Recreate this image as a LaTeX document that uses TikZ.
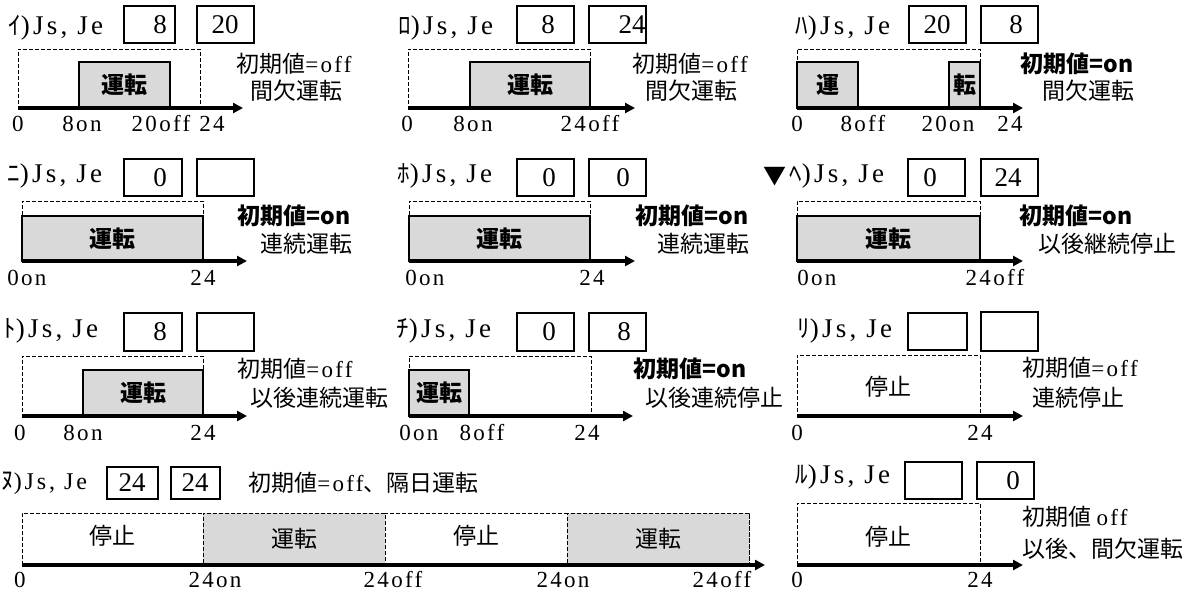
\documentclass[tikz,border=0pt]{standalone}
\usepackage{fontspec}
\usetikzlibrary{arrows.meta}
\newfontfamily\jpfam{Noto Sans CJK JP}
\newfontfamily\latfam[LetterSpace=10]{Liberation Serif}
\newfontfamily\lblfam[LetterSpace=12]{Liberation Serif}
\newfontfamily\numfam{Liberation Serif}
\newcommand\myjp{\jpfam\fontsize{11.5pt}{14pt}\selectfont}
\newcommand\myjpb{\jpfam\bfseries\fontsize{11.5pt}{14pt}\selectfont}
\newcommand\mylat{\latfam\fontsize{11.5pt}{14pt}\selectfont}
\newcommand\mylbl{\lblfam\fontsize{13.5pt}{16pt}\selectfont}
\newcommand\mylbls{\lblfam\fontsize{12pt}{15pt}\selectfont}
\newcommand\mykana{\jpfam\fontsize{12.5pt}{15pt}\selectfont}
\newcommand\mynum{\numfam\fontsize{13.5pt}{16pt}\selectfont}
\newcommand\mkbox[7]{\node[#2, minimum width={(#5-#3)*0.5pt}, minimum height={(#6-#4)*0.5pt}] (#1) at ({(#3+#5)/2},{(#4+#6)/2}) {#7};}
\tikzset{
 valbox/.style={draw, line width=1.1pt, inner sep=0},
 dashbox/.style={draw, line width=0.5pt, dash pattern=on 2pt off 1pt, inner sep=0, font=\myjp},
 runbox/.style={draw, fill=black!15, line width=1pt, inner sep=0, font=\myjpb},
 runday/.style={draw, fill=black!15, line width=0.5pt, dash pattern=on 2pt off 1pt, inner sep=0, font=\myjp},
 axis/.style={line width=1.6pt, -{Triangle[length=5pt,width=5pt]}},
 lab/.style={inner sep=0, anchor=west, font=\mylbl},
 jlab/.style={inner sep=0, anchor=west, font=\myjp},
 blab/.style={inner sep=0, anchor=west, font=\myjpb},
 tick/.style={inner sep=0, font=\mylat},
 num/.style={inner sep=0, font=\mynum},
}
\begin{document}
\begin{tikzpicture}[x=0.5pt,y=-0.5pt]
\useasboundingbox (0,0) rectangle (1200,591);
% ---------- Row 1 ----------
% i
\node[lab] (i-l) at (8,28) {{\mykana ｲ})Js, Je};
\mkbox{i-b1}{valbox}{124}{6}{175}{43}{}
\mkbox{i-b2}{valbox}{197}{6}{254}{43}{}
\node[num] (i-v1) at (160,25) {8};
\node[num] (i-v2) at (225,25) {20};
\mkbox{i-d}{dashbox}{18}{49}{200}{108}{}
\mkbox{i-r}{runbox}{79}{62}{170}{108}{運転}
\coordinate (i-o) at (18,108); \coordinate (i-e) at (243,108);
\draw[axis] (i-o) -- (i-e);
\node[tick] (i-t0) at (18,124) {0};
\node[tick] (i-t1) at (82,124) {8on};
\node[tick] (i-t2) at (161,124) {20off};
\node[tick] (i-t3) at (212,124) {24};
\node[jlab] (i-n1) at (236,64) {初期値{\mylat =off}};
\node[jlab] (i-n2) at (250,91) {間欠運転};
% ro
\node[lab] (ro-l) at (398,28) {{\mykana ﾛ})Js, Je};
\mkbox{ro-b1}{valbox}{517}{6}{574}{43}{}
\mkbox{ro-b2}{valbox}{589}{6}{646}{43}{}
\node[num] (ro-v1) at (548,25) {8};
\node[num] (ro-v2) at (632,25) {24};
\mkbox{ro-d}{dashbox}{408}{49}{590}{108}{}
\mkbox{ro-r}{runbox}{470}{62}{590}{108}{運転}
\coordinate (ro-o) at (408,108); \coordinate (ro-e) at (635,108);
\draw[axis] (ro-o) -- (ro-e);
\node[tick] (ro-t0) at (407,124) {0};
\node[tick] (ro-t1) at (473,124) {8on};
\node[tick] (ro-t2) at (590,124) {24off};
\node[jlab] (ro-n1) at (632,64) {初期値{\mylat =off}};
\node[jlab] (ro-n2) at (645,91) {間欠運転};
% ha
\node[lab] (ha-l) at (795,28) {{\mykana ﾊ})Js, Je};
\mkbox{ha-b1}{valbox}{909}{6}{966}{43}{}
\mkbox{ha-b2}{valbox}{981}{6}{1038}{43}{}
\node[num] (ha-v1) at (937,25) {20};
\node[num] (ha-v2) at (1016,25) {8};
\mkbox{ha-d}{dashbox}{797}{49}{980}{108}{}
\mkbox{ha-r1}{runbox}{797}{62}{858}{108}{運}
\mkbox{ha-r2}{runbox}{949}{62}{980}{108}{転}
\coordinate (ha-o) at (797,108); \coordinate (ha-e) at (1023,108);
\draw[axis] (ha-o) -- (ha-e);
\node[tick] (ha-t0) at (797,124) {0};
\node[tick] (ha-t1) at (863,124) {8off};
\node[tick] (ha-t2) at (948,124) {20on};
\node[tick] (ha-t3) at (1010,124) {24};
\node[blab] (ha-n1) at (1020,64) {初期値=on};
\node[jlab] (ha-n2) at (1042,91) {間欠運転};
% ---------- Row 2 ----------
% ni
\node[lab] (ni-l) at (7,176) {{\mykana ﾆ})Js, Je};
\mkbox{ni-b1}{valbox}{124}{159}{182}{196}{}
\mkbox{ni-b2}{valbox}{197}{159}{254}{196}{}
\node[num] (ni-v1) at (160,178) {0};
\mkbox{ni-d}{dashbox}{22}{201}{203}{261}{}
\mkbox{ni-r}{runbox}{22}{216}{203}{261}{運転}
\coordinate (ni-o) at (22,261); \coordinate (ni-e) at (247,261);
\draw[axis] (ni-o) -- (ni-e);
\node[tick,anchor=west] (ni-t0) at (7,278) {0on};
\node[tick] (ni-t1) at (203,278) {24};
\node[blab] (ni-n1) at (237,216) {初期値=on};
\node[jlab] (ni-n2) at (260,244) {連続運転};
% ho
\node[lab] (ho-l) at (397,176) {{\mykana ﾎ})Js, Je};
\mkbox{ho-b1}{valbox}{517}{159}{574}{196}{}
\mkbox{ho-b2}{valbox}{589}{159}{646}{196}{}
\node[num] (ho-v1) at (549,178) {0};
\node[num] (ho-v2) at (623,178) {0};
\mkbox{ho-d}{dashbox}{409}{201}{590}{261}{}
\mkbox{ho-r}{runbox}{409}{216}{590}{261}{運転}
\coordinate (ho-o) at (409,261); \coordinate (ho-e) at (635,261);
\draw[axis] (ho-o) -- (ho-e);
\node[tick,anchor=west] (ho-t0) at (405,278) {0on};
\node[tick] (ho-t1) at (592,278) {24};
\node[blab] (ho-n1) at (635,216) {初期値=on};
\node[jlab] (ho-n2) at (657,244) {連続運転};
% he
\node[jlab,anchor=east] (he-m) at (787,177) {▼};
\node[lab] (he-l) at (789,176) {{\mykana ﾍ})Js, Je};
\mkbox{he-b1}{valbox}{908}{159}{965}{196}{}
\mkbox{he-b2}{valbox}{981}{159}{1038}{196}{}
\node[num] (he-v1) at (930,178) {0};
\node[num] (he-v2) at (1008,178) {24};
\mkbox{he-d}{dashbox}{797}{201}{980}{261}{}
\mkbox{he-r}{runbox}{797}{216}{980}{261}{運転}
\coordinate (he-o) at (797,261); \coordinate (he-e) at (1023,261);
\draw[axis] (he-o) -- (he-e);
\node[tick,anchor=west] (he-t0) at (797,278) {0on};
\node[tick] (he-t1) at (995,278) {24off};
\node[blab] (he-n1) at (1019,216) {初期値=on};
\node[jlab] (he-n2) at (1038,244) {以後継続停止};
% ---------- Row 3 ----------
% to
\node[lab] (to-l) at (3,331) {{\mykana ﾄ})Js, Je};
\mkbox{to-b1}{valbox}{124}{313}{182}{351}{}
\mkbox{to-b2}{valbox}{197}{313}{254}{351}{}
\node[num] (to-v1) at (160,332) {8};
\mkbox{to-d}{dashbox}{22}{356}{203}{416}{}
\mkbox{to-r}{runbox}{83}{370}{203}{416}{運転}
\coordinate (to-o) at (22,416); \coordinate (to-e) at (247,416);
\draw[axis] (to-o) -- (to-e);
\node[tick] (to-t0) at (20,433) {0};
\node[tick] (to-t1) at (83,433) {8on};
\node[tick] (to-t2) at (203,433) {24};
\node[jlab] (to-n1) at (237,369) {初期値{\mylat =off}};
\node[jlab] (to-n2) at (250,398) {以後連続運転};
% chi
\node[lab] (chi-l) at (396,331) {{\mykana ﾁ})Js, Je};
\mkbox{chi-b1}{valbox}{517}{313}{574}{351}{}
\mkbox{chi-b2}{valbox}{589}{313}{646}{351}{}
\node[num] (chi-v1) at (549,332) {0};
\node[num] (chi-v2) at (624,332) {8};
\mkbox{chi-d}{dashbox}{409}{356}{591}{416}{}
\mkbox{chi-r}{runbox}{409}{370}{469}{416}{運転}
\coordinate (chi-o) at (409,416); \coordinate (chi-e) at (633,416);
\draw[axis] (chi-o) -- (chi-e);
\node[tick,anchor=west] (chi-t0) at (399,433) {0on};
\node[tick] (chi-t1) at (482,433) {8off};
\node[tick] (chi-t2) at (587,433) {24};
\node[blab] (chi-n1) at (633,369) {初期値=on};
\node[jlab] (chi-n2) at (645,398) {以後連続停止};
% ri
\node[lab] (ri-l) at (797,331) {{\mykana ﾘ})Js, Je};
\mkbox{ri-b1}{valbox}{908}{313}{967}{350}{}
\mkbox{ri-b2}{valbox}{981}{312}{1038}{351}{}
\mkbox{ri-d}{dashbox}{797}{355}{980}{416}{}
\node[jlab,anchor=center] (ri-s) at (888,387) {停止};
\coordinate (ri-o) at (797,416); \coordinate (ri-e) at (1023,416);
\draw[axis] (ri-o) -- (ri-e);
\node[tick] (ri-t0) at (797,433) {0};
\node[tick] (ri-t1) at (980,433) {24};
\node[jlab] (ri-n1) at (1022,368) {初期値{\mylat =off}};
\node[jlab] (ri-n2) at (1032,398) {連続停止};
% ---------- Row 4 ----------
% nu
\node[lab,font=\mylbls] (nu-l) at (1,483) {{\mykana ﾇ})Js, Je};
\mkbox{nu-b1}{valbox}{107}{467}{158}{499}{}
\mkbox{nu-b2}{valbox}{171}{467}{220}{499}{}
\node[num] (nu-v1) at (132,483) {24};
\node[num] (nu-v2) at (195,483) {24};
\node[jlab] (nu-n) at (248,483) {初期値{\mylat =off}、隔日運転};
\mkbox{nu-d}{dashbox}{22}{513}{749}{565}{}
\mkbox{nu-r1}{runday}{203}{513}{385}{565}{運転}
\mkbox{nu-r2}{runday}{567}{513}{749}{565}{運転}
\node[jlab,anchor=center] (nu-s1) at (112,536) {停止};
\node[jlab,anchor=center] (nu-s2) at (476,536) {停止};
\coordinate (nu-o) at (22,565); \coordinate (nu-e) at (765,565);
\draw[axis] (nu-o) -- (nu-e);
\node[tick] (nu-t0) at (20,580) {0};
\node[tick] (nu-t1) at (215,580) {24on};
\node[tick] (nu-t2) at (393,580) {24off};
\node[tick] (nu-t3) at (563,580) {24on};
\node[tick] (nu-t4) at (722,580) {24off};
% ru
\node[lab] (ru-l) at (795,477) {{\mykana ﾙ})Js, Je};
\mkbox{ru-b1}{valbox}{905}{462}{962}{499}{}
\mkbox{ru-b2}{valbox}{977}{462}{1034}{499}{}
\node[num] (ru-v2) at (1013,481) {0};
\mkbox{ru-d}{dashbox}{797}{503}{980}{565}{}
\node[jlab,anchor=center] (ru-s) at (888,537) {停止};
\coordinate (ru-o) at (797,565); \coordinate (ru-e) at (1023,565);
\draw[axis] (ru-o) -- (ru-e);
\node[tick] (ru-t0) at (797,580) {0};
\node[tick] (ru-t1) at (980,580) {24};
\node[jlab] (ru-n1) at (1022,517) {初期値 {\mylat off}};
\node[jlab] (ru-n2) at (1022,549) {以後、間欠運転};
\end{tikzpicture}
\end{document}
